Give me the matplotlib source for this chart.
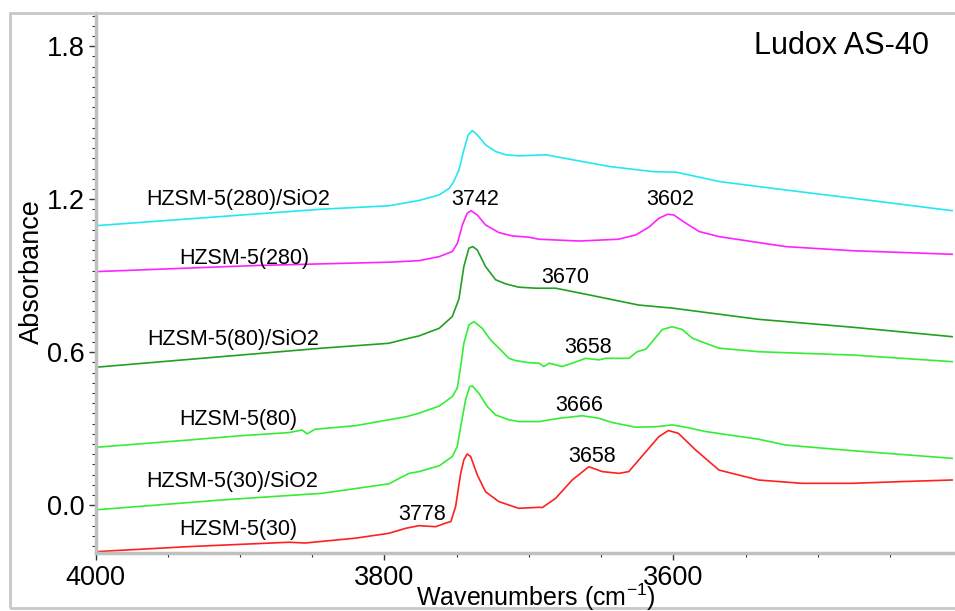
import numpy as np
import matplotlib
matplotlib.use("Agg")
import matplotlib.pyplot as plt
from matplotlib.ticker import MultipleLocator, FormatStrFormatter
from matplotlib.patches import Rectangle

plt.rcParams['font.family'] = ['Liberation Sans', 'DejaVu Sans']
plt.rcParams['mathtext.fontset'] = 'custom'
plt.rcParams['mathtext.rm'] = 'Liberation Sans'
plt.rcParams['mathtext.it'] = 'Liberation Sans'

# HZSM-5(280)/SiO2
wn_280s = [4000, 3843, 3797, 3776, 3762, 3755, 3752, 3748.4, 3745, 3742, 3739.2, 3735.7, 3730,
           3723, 3716, 3707, 3688, 3672, 3644, 3614, 3598, 3568, 3522, 3476, 3407]
ab_280s = [1.096, 1.161, 1.174, 1.195, 1.217, 1.243, 1.269, 1.315, 1.393, 1.452, 1.469, 1.452, 1.413,
           1.387, 1.374, 1.370, 1.374, 1.357, 1.328, 1.308, 1.306, 1.269, 1.236, 1.204, 1.155]

# HZSM-5(280)
wn_280 = [4000, 3889, 3797, 3776, 3762, 3753, 3749.5, 3746, 3742.7, 3740, 3735.7, 3730, 3720.7,
          3711.5, 3700, 3693, 3665, 3638, 3626, 3617, 3610, 3604, 3599.6, 3591.4, 3582, 3568,
          3541, 3522, 3476, 3407]
ab_280 = [0.916, 0.940, 0.953, 0.959, 0.975, 0.995, 1.027, 1.099, 1.145, 1.155, 1.138, 1.099, 1.069,
          1.056, 1.051, 1.043, 1.036, 1.043, 1.060, 1.090, 1.125, 1.141, 1.138, 1.106, 1.073, 1.053,
          1.030, 1.014, 0.998, 0.984]

# HZSM-5(80)/SiO2
wn_80s = [4000, 3912, 3843, 3797, 3783, 3776, 3762, 3753, 3748.4, 3745, 3741.5, 3738.8, 3735.7,
          3730, 3723, 3716, 3707, 3695, 3681.5, 3658.5, 3624, 3600.7, 3541, 3522, 3476, 3407]
ab_80s = [0.541, 0.583, 0.616, 0.635, 0.655, 0.664, 0.694, 0.740, 0.809, 0.936, 1.008, 1.014, 1.001,
          0.936, 0.884, 0.868, 0.855, 0.851, 0.851, 0.825, 0.785, 0.773, 0.729, 0.720, 0.698, 0.661]

# HZSM-5(80)
wn_80 = [4000, 3935, 3901, 3866, 3857, 3853.5, 3848, 3820, 3785, 3776, 3762, 3753, 3749.6, 3747.2,
         3745, 3741.5, 3738, 3732.3, 3726.5, 3720.7, 3713.8, 3709, 3700, 3693, 3689.6, 3686,
         3677, 3670, 3660.7, 3651.5, 3647, 3630.8, 3625, 3619, 3607.6, 3600.7, 3593.8, 3586.8,
         3577.6, 3568.4, 3541, 3522, 3476, 3407]
ab_80 = [0.227, 0.256, 0.272, 0.285, 0.295, 0.280, 0.298, 0.312, 0.347, 0.361, 0.389, 0.426, 0.459, 0.544,
         0.635, 0.707, 0.720, 0.694, 0.648, 0.616, 0.576, 0.567, 0.559, 0.557, 0.544, 0.557,
         0.544, 0.557, 0.576, 0.570, 0.576, 0.576, 0.602, 0.612, 0.689, 0.700, 0.689, 0.655,
         0.635, 0.616, 0.602, 0.598, 0.589, 0.563]

# HZSM-5(30)/SiO2
wn_30s = [4000, 3912, 3843, 3797, 3783, 3776, 3762, 3753, 3749.6, 3747.2, 3743.8, 3741, 3739.2,
          3734.6, 3728.8, 3723, 3713.8, 3707, 3693, 3679, 3663, 3651.5, 3642, 3626, 3612,
          3600.7, 3591.4, 3577.6, 3541, 3522, 3476, 3407]
ab_30s = [-0.018, 0.021, 0.047, 0.084, 0.125, 0.132, 0.155, 0.191, 0.230, 0.308, 0.413, 0.465, 0.468,
          0.439, 0.387, 0.354, 0.335, 0.328, 0.328, 0.341, 0.351, 0.341, 0.324, 0.306, 0.308,
          0.315, 0.306, 0.289, 0.259, 0.236, 0.214, 0.184]

# HZSM-5(30)
wn_30 = [4000, 3935, 3866, 3855, 3820, 3797, 3785, 3776, 3764.5, 3757.6, 3754, 3750.7, 3747.2, 3745,
         3742.7, 3740.3, 3735.7, 3730, 3720.7, 3707, 3693, 3690.7, 3681.5, 3670, 3658.5, 3649.2,
         3637.6, 3630.8, 3619, 3610, 3603.4, 3596.5, 3584.6, 3568.4, 3541, 3511, 3476, 3441, 3407]
ab_30 = [-0.182, -0.162, -0.145, -0.148, -0.129, -0.110, -0.090, -0.080, -0.084, -0.070, -0.064, -0.005,
         0.125, 0.178, 0.201, 0.191, 0.119, 0.053, 0.014, -0.012, -0.008, -0.009, 0.027, 0.099, 0.151,
         0.132, 0.125, 0.132, 0.210, 0.269, 0.293, 0.282, 0.217, 0.138, 0.099, 0.086, 0.086, 0.093, 0.099]

series = [
    (wn_280s, ab_280s, '#22e8f2'),
    (wn_280, ab_280, '#ff22ff'),
    (wn_80s, ab_80s, '#22a022'),
    (wn_80, ab_80, '#33ee33'),
    (wn_30s, ab_30s, '#33ee33'),
    (wn_30, ab_30, '#ff2020'),
]

names = ['HZSM-5(280)/SiO2', 'HZSM-5(280)', 'HZSM-5(80)/SiO2', 'HZSM-5(80)',
         'HZSM-5(30)/SiO2', 'HZSM-5(30)']
name_pos = [(3965, 1.197), (3942, 0.969), (3964, 0.648), (3942, 0.335), (3965, 0.093), (3942, -0.097)]

peaks = ['3742', '3602', '3670', '3658', '3666', '3658', '3778']
peak_pos = [(3737, 1.197), (3602, 1.197), (3675, 0.894), (3659, 0.620), (3665.5, 0.393),
            (3656, 0.191), (3774, -0.038)]

fig = plt.figure(figsize=(9.55, 6.11), dpi=100)
ax = fig.add_axes([95.5 / 955, 1 - 552.7 / 611, 1 - 95.5 / 955, (552.7 - 13) / 611])

for wn, ab, c in series:
    ax.plot(wn, ab, color=c, lw=1.2)

for n, (x, y) in zip(names, name_pos):
    ax.text(x, y, n, fontsize=15.5, ha='left', va='center')
for p, (x, y) in zip(peaks, peak_pos):
    ax.text(x, y, p, fontsize=15.5, ha='center', va='center')

ax.text(3423, 1.80, 'Ludox AS-40', fontsize=22, ha='right', va='center')

ax.set_xlim(4000, 3405)
ax.set_ylim(-0.186, 1.93)
ax.xaxis.set_major_locator(MultipleLocator(200))
ax.xaxis.set_minor_locator(MultipleLocator(50))
ax.yaxis.set_major_locator(MultipleLocator(0.6))
ax.yaxis.set_minor_locator(MultipleLocator(0.04))
ax.yaxis.set_major_formatter(FormatStrFormatter('%.1f'))
ax.tick_params(which='major', length=5, width=1, color='#333333', labelsize=19.5)
ax.tick_params(which='minor', length=3, width=0.8, color='#333333')
ax.tick_params(axis='x', pad=4)
ax.tick_params(axis='y', pad=3)

for s in ['top', 'right']:
    ax.spines[s].set_visible(False)
for s in ['left', 'bottom']:
    ax.spines[s].set_color('#c0c0c0')
    ax.spines[s].set_linewidth(2.5)

fig.text(536 / 955, 1 - 597 / 611, 'Wavenumbers (cm$^{-1}$)', fontsize=18,
         ha='center', va='center')
fig.text(32 / 955, 1 - 272 / 611, 'Absorbance', fontsize=19.5, rotation=90,
         ha='center', va='center')

# outer grey frame
fig.patches.append(Rectangle((10 / 955, 1 - 608 / 611), 1.2, (608 - 13) / 611,
                             transform=fig.transFigure, fill=False,
                             edgecolor='#c8c8c8', lw=2))

fig.savefig('out.png', dpi=100)
